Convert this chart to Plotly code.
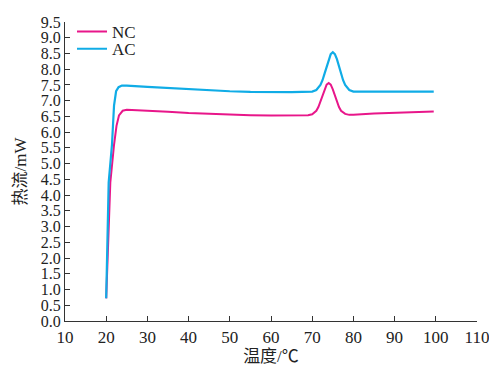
import plotly.graph_objects as go

# Temperature (°C) and heat flow (mW)
nc_temp = [20.0, 21.0, 21.9, 22.5, 23.1, 24.0, 25.0, 30, 35, 40, 45, 50, 55, 60, 65, 69,
           70, 71, 71.5, 72, 72.5, 73, 73.5, 74, 74.5, 75, 75.5, 76, 76.5, 77, 78, 79, 80,
           85, 90, 95, 99.5]
nc_flow = [0.72, 4.4, 5.6, 6.2, 6.53, 6.68, 6.71, 6.69, 6.65, 6.61, 6.58, 6.56, 6.54, 6.53, 6.53, 6.54,
           6.57, 6.68, 6.80, 6.97, 7.17, 7.36, 7.51, 7.56, 7.51, 7.36, 7.17, 6.97, 6.80, 6.68, 6.58, 6.55, 6.55,
           6.59, 6.62, 6.65, 6.66]

ac_temp = [20.0, 20.6, 21.4, 21.9, 22.4, 23.0, 23.8, 25, 30, 35, 40, 45, 50, 55, 60, 65,
           70, 71, 72, 72.5, 73, 73.5, 74, 74.5, 75, 75.5, 76, 76.5, 77, 77.5, 78, 79, 80,
           85, 90, 95, 99.5]
ac_flow = [0.72, 4.4, 5.6, 6.84, 7.3, 7.43, 7.48, 7.48, 7.44, 7.40, 7.36, 7.32, 7.30, 7.28, 7.27, 7.27,
           7.29, 7.34, 7.50, 7.65, 7.86, 8.09, 8.32, 8.48, 8.54, 8.48, 8.32, 8.09, 7.86, 7.65, 7.50, 7.34, 7.29,
           7.29, 7.30, 7.29, 7.29]

x_ticks = [10, 20, 30, 40, 50, 60, 70, 80, 90, 100, 110]
y_ticks = [i * 0.5 for i in range(20)]
y_tick_text = [f"{v:.1f}" for v in y_ticks]

SERIF = "Liberation Serif, Times New Roman, serif"
CJK = "Liberation Serif, Noto Sans CJK SC, serif"

fig = go.Figure()
fig.add_trace(go.Scatter(x=nc_temp, y=nc_flow, mode="lines", name="NC", legend="legend",
                         line=dict(color="#E8168A", width=2)))
fig.add_trace(go.Scatter(x=ac_temp, y=ac_flow, mode="lines", name="AC", legend="legend2",
                         line=dict(color="#10ACE6", width=2.2)))

axis_common = dict(showline=True, linecolor="#333333", linewidth=1.3,
                   ticks="inside", ticklen=5, tickwidth=1.2, tickcolor="#333333",
                   showgrid=False, zeroline=False, mirror=False, automargin=False)

legend_common = dict(x=0.017, xanchor="left", yanchor="middle",
                     bgcolor="rgba(0,0,0,0)", font=dict(family=SERIF, size=17, color="#222222"),
                     itemwidth=30)

fig.update_layout(
    width=489, height=361,
    margin=dict(l=57, r=20, t=6, b=48),
    paper_bgcolor="white", plot_bgcolor="white",
    font=dict(family=SERIF, color="#222222"),
    showlegend=True,
    legend=dict(y=0.967, **legend_common),
    legend2=dict(y=0.909, **legend_common),
    xaxis=dict(range=[10, 110], tickvals=x_ticks, ticktext=[str(v) for v in x_ticks],
               tickfont=dict(family=SERIF, size=17, color="#222222"),
               title=dict(text="温度/℃", font=dict(family=CJK, size=17), standoff=4),
               **axis_common),
    yaxis=dict(range=[0, 9.5], tickvals=y_ticks, ticktext=y_tick_text,
               tickfont=dict(family=SERIF, size=16, color="#222222"),
               title=dict(text="热流/mW", font=dict(family=CJK, size=17), standoff=9),
               **axis_common),
)

fig.write_html("out.html")
